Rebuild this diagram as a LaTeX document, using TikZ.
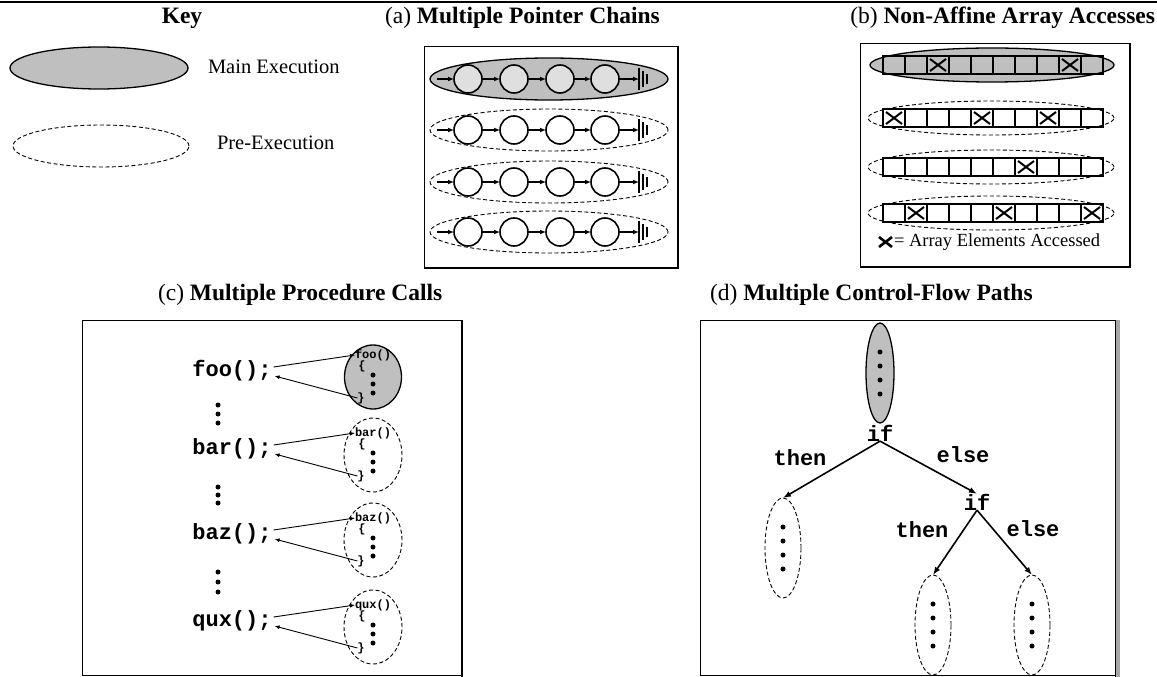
\documentclass[tikz,border=0pt]{standalone}
\usepackage{fontspec}
\setmainfont{Liberation Serif}
\setmonofont{Liberation Mono}
\usetikzlibrary{arrows.meta,shapes.geometric}
\begin{document}
\begin{tikzpicture}[x=1pt,y=-1pt,
  every node/.style={inner sep=0pt,outer sep=0pt},
  shade main/.style={draw,line width=1.3pt,fill=gray!50},
  pre/.style={draw,line width=0.9pt,dash pattern=on 4pt off 2.5pt},
  heading/.style={font=\fontsize{23.5}{26}\selectfont},
  legend/.style={font=\fontsize{20.5}{23}\selectfont,anchor=west},
  panel/.style={draw,line width=0.8pt},
  shadow edge/.style={line width=2.6pt},
  ptrnode/.style={circle,draw,line width=1.6pt,minimum size=28pt},
  link/.style={line width=1.5pt,-{Latex[length=6pt,width=5pt]}},
  code/.style={font=\ttfamily\bfseries\fontsize{22}{24}\selectfont},
  smallcode/.style={font=\ttfamily\bfseries\fontsize{12}{13}\selectfont},
  thin link/.style={line width=0.9pt,-{Latex[length=5pt,width=4pt]}},
  flow/.style={line width=1.6pt,-{Latex[length=8pt,width=6pt]}},
  dot/.style={circle,fill,minimum size=5pt},
  cell/.style={draw,line width=2pt},
]
\useasboundingbox (0,0) rectangle (1157,677);

% top rule
\draw[line width=2pt] (0,2) -- (1157,2);

% headings
\node[heading] (tkey) at (182,18) {\textbf{Key}};
\node[heading,anchor=west] (ta) at (385,18) {(a) \textbf{Multiple Pointer Chains}};
\node[heading,anchor=east] (tb) at (1155,18) {(b) \textbf{Non-Affine Array Accesses}};
\node[heading,anchor=west] (tc) at (158,295) {(c) \textbf{Multiple Procedure Calls}};
\node[heading,anchor=west] (td) at (710,295) {(d) \textbf{Multiple Control-Flow Paths}};

% key
\node[ellipse,shade main,minimum width=178pt,minimum height=42pt] (keymain) at (99,68) {};
\node[legend] (keymaintxt) at (208,67) {Main Execution};
\node[ellipse,pre,minimum width=176pt,minimum height=42pt] (keypre) at (101,146) {};
\node[legend] (keypretxt) at (217,143) {Pre-Execution};

% (a) pointer chains
\draw[panel] (424,268) |- (678,46);
\draw[shadow edge] (678,46) |- (424,268);
\node[ellipse,shade main,minimum width=238pt,minimum height=42pt] (ae1) at (549,79) {};
\node[ellipse,pre,minimum width=238pt,minimum height=42pt] (ae2) at (549,130) {};
\node[ellipse,pre,minimum width=238pt,minimum height=42pt] (ae3) at (549,182) {};
\node[ellipse,pre,minimum width=238pt,minimum height=42pt] (ae4) at (549,232) {};
\foreach \r/\y/\f in {1/79/gray!25,2/130/white,3/182/white,4/232/white}{
  \coordinate (a\r s) at (437,\y);
  \foreach \i/\x in {1/468,2/514,3/560,4/605}
    \node[ptrnode,fill=\f] (a\r n\i) at (\x,\y) {};
  \coordinate (a\r t) at (639,\y);
  \draw[link] (a\r s) -- (a\r n1);
  \draw[link] (a\r n1) -- (a\r n2);
  \draw[link] (a\r n2) -- (a\r n3);
  \draw[link] (a\r n3) -- (a\r n4);
  \draw[link] (a\r n4) -- (a\r t);
  \draw[line width=1.5pt] (639,\y-11) -- (639,\y+11);
  \draw[line width=1.3pt] (643,\y-8) -- (643,\y+8);
  \draw[line width=1.2pt] (647,\y-5) -- (647,\y+5);
}

% (b) array accesses
\draw[panel] (860,267) |- (1130,43);
\draw[shadow edge] (1130,43) |- (860,267);
\node[ellipse,shade main,minimum width=244pt,minimum height=34pt] (be1) at (992,65) {};
\node[ellipse,pre,minimum width=246pt,minimum height=34pt] (be2) at (991,118) {};
\node[ellipse,pre,minimum width=246pt,minimum height=34pt] (be3) at (991,167) {};
\node[ellipse,pre,minimum width=246pt,minimum height=34pt] (be4) at (991,213) {};
\foreach \y/\xs in {65/{3,9},118/{1,5,8},167/{7},213/{2,6,10}}{
  \foreach \c in {0,...,9}
    \draw[cell] (883+22*\c,\y-9) rectangle ++(22,18);
  \foreach \k in \xs {
    \draw[cell] (883+22*\k-19,\y-6) -- ++(16,12);
    \draw[cell] (883+22*\k-19,\y+6) -- ++(16,-12);
  }
}
\draw[line width=2.6pt] (879,237) -- (892,247);
\draw[line width=2.6pt] (879,247) -- (892,237);
\node[anchor=west,font=\fontsize{18.5}{20}\selectfont] (blegend) at (894,242) {= Array Elements Accessed};

% (c) procedure calls
\draw[panel] (82,675) |- (462,320);
\draw[panel] (82,675) -- (462,675);
\draw[shadow edge] (462,320) -- (462,677);
\node[ellipse,shade main,minimum width=57pt,minimum height=64pt] (efoo) at (373,377) {};
\foreach \n/\cy in {bar/455,baz/540,qux/627}
  \node[ellipse,pre,minimum width=58pt,minimum height=74pt] (e\n) at (373,\cy) {};
\foreach \n/\cy in {foo/377,bar/455,baz/540,qux/627}{
  \node[code] (c\n) at (232,\cy-6) {\n();};
  \node[smallcode,anchor=west] (l\n) at (355,\cy-22) {\n()};
  \node[smallcode] (o\n) at (362,\cy-11) {\{};
  \node[smallcode] (r\n) at (361,\cy+21) {\}};
  \foreach \d in {-2,7,16}
    \node[dot] (d\n\d) at (373,\cy+\d) {};
  \draw[thin link] ([shift={(2pt,4pt)}]c\n.east) -- (l\n.west);
  \draw[thin link] (r\n.west) -- ([shift={(3pt,-5pt)}]c\n.east);
}
\foreach \g/\ys in {1/{405,414,423},2/{487,495,503},3/{572,582,592}}
  \foreach \y in \ys
    \node[dot] (cg\g\y) at (218,\y) {};

% (d) control-flow paths
\draw[panel] (700,675) |- (1115,320);
\draw[panel] (700,675) -- (1115,675);
\draw[line width=4pt,gray!70] (1118,320) -- (1118,677);
\draw[line width=1pt] (1115,320) -- (1115,677);
\node[ellipse,shade main,minimum width=28pt,minimum height=100pt] (dtop) at (880,373) {};
\node[ellipse,pre,minimum width=36pt,minimum height=100pt] (dleft) at (783,548) {};
\node[ellipse,pre,minimum width=36pt,minimum height=100pt] (dmid) at (933,625) {};
\node[ellipse,pre,minimum width=36pt,minimum height=100pt] (dright) at (1032,625) {};
\foreach \nm/\x/\y in {dtop/880/352,dleft/783/527,dmid/933/604,dright/1032/604}
  \foreach \k in {0,1,2,3}
    \node[dot] (\nm p\k) at (\x,\y+14*\k) {};
\node[code] (if1) at (880,433) {if};
\node[code] (if2) at (977,502) {if};
\node[code] (then1) at (800,458) {then};
\node[code] (else1) at (963,455) {else};
\node[code] (then2) at (922,530) {then};
\node[code] (else2) at (1033,529) {else};
\draw[flow] (if1.south) -- (dleft.north);
\draw[flow] (if1.south) -- (if2.north);
\draw[flow] (if2.south) -- (dmid.north);
\draw[flow] (if2.south) -- (dright.north);
\end{tikzpicture}
\end{document}
